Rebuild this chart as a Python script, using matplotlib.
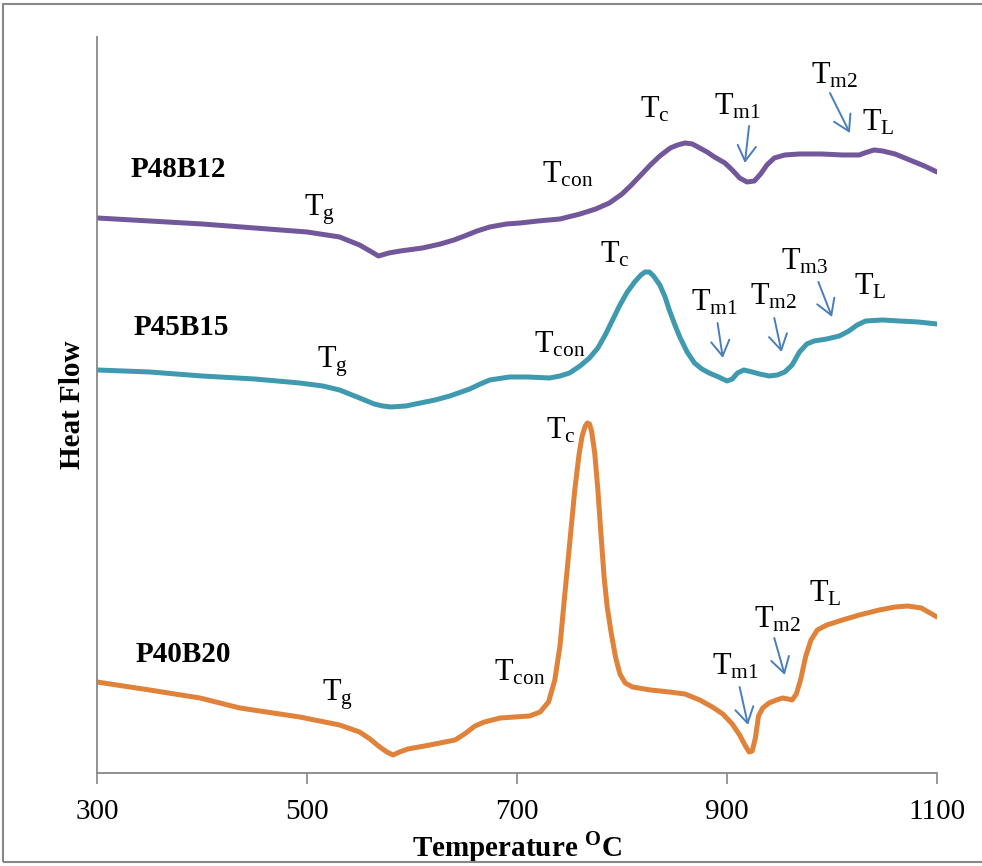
import matplotlib
matplotlib.use("Agg")
import matplotlib.pyplot as plt
from matplotlib.patches import Rectangle

plt.rcParams["font.family"] = ["Liberation Serif", "DejaVu Serif"]
plt.rcParams["mathtext.fontset"] = "custom"
plt.rcParams["mathtext.rm"] = "Liberation Serif"
plt.rcParams["mathtext.bf"] = "Liberation Serif:bold"

# ------- DSC traces (temperature in degC, heat flow in arbitrary units) -------
t_p48 = [300, 400, 450, 500, 531, 550, 560, 568, 578, 589, 610, 627, 640, 650, 662,
         674, 690, 703, 720, 741, 760, 775, 788, 800, 808, 818, 827, 836, 846, 853,
         860, 867, 874, 881, 888, 898, 905, 912, 919, 926, 932, 938, 945, 955, 969,
         990, 1010, 1026, 1031, 1040, 1048, 1060, 1074, 1088, 1100]
hf_p48 = [55.5, 54.9, 54.5, 54.1, 53.6, 52.8, 52.2, 51.7, 52.0, 52.2, 52.5, 52.9, 53.3,
          53.7, 54.2, 54.6, 54.9, 55.0, 55.2, 55.4, 55.9, 56.4, 57.0, 57.9, 58.7, 59.8,
          60.8, 61.7, 62.5, 62.8, 63.0, 62.9, 62.5, 62.1, 61.6, 61.0, 60.3, 59.5, 59.1,
          59.2, 59.9, 60.8, 61.5, 61.8, 61.9, 61.9, 61.8, 61.8, 62.0, 62.3, 62.2, 61.9,
          61.3, 60.7, 60.1]

t_p45 = [300, 350, 400, 450, 493, 515, 531, 550, 564, 572, 580, 594, 608, 622, 636,
         655, 665, 674, 693, 710, 731, 741, 750, 760, 769, 777, 784, 791, 798, 805,
         812, 818, 822, 826, 830, 836, 841, 845, 850, 855, 862, 869, 876, 883, 892,
         900, 905, 910, 916, 924, 931, 940, 948, 955, 962, 969, 976, 983, 995, 1007,
         1016, 1024, 1032, 1048, 1064, 1082, 1100]
hf_p45 = [40.3, 40.1, 39.7, 39.4, 39.0, 38.7, 38.3, 37.5, 36.9, 36.7, 36.6, 36.7, 37.0,
          37.3, 37.7, 38.4, 38.9, 39.3, 39.6, 39.6, 39.5, 39.7, 40.0, 40.7, 41.5, 42.5,
          43.8, 45.3, 46.8, 48.1, 49.1, 49.8, 50.1, 50.1, 49.7, 48.8, 47.6, 46.3, 44.9,
          43.6, 42.1, 41.0, 40.4, 40.0, 39.6, 39.2, 39.4, 40.0, 40.3, 40.1, 39.9, 39.7,
          39.8, 40.1, 40.8, 42.1, 42.9, 43.2, 43.4, 43.7, 44.2, 44.8, 45.2, 45.3, 45.2,
          45.1, 44.9]

t_p40 = [300, 350, 398, 436, 493, 531, 550, 560, 568, 576, 582, 588, 596, 617, 641,
         650, 660, 669, 684, 712, 722, 730, 736, 741, 745, 750, 755, 759, 762, 765,
         767, 769, 771, 774, 777, 780, 783, 786, 790, 794, 798, 803, 810, 827, 845,
         860, 874, 886, 896, 905, 912, 917, 921, 924, 927, 930, 934, 940, 947, 953,
         958, 962, 966, 970, 975, 980, 986, 995, 1010, 1026, 1045, 1060, 1072, 1085,
         1100]
hf_p40 = [9.1, 8.3, 7.5, 6.5, 5.6, 4.8, 4.1, 3.4, 2.7, 2.1, 1.8, 2.1, 2.4, 2.8, 3.3,
          3.9, 4.7, 5.1, 5.5, 5.7, 6.1, 7.1, 9.3, 12.8, 17.3, 22.8, 28.3, 31.8, 33.7,
          34.7, 35.0, 34.9, 34.2, 32.0, 28.3, 23.8, 19.5, 16.5, 13.8, 11.5, 9.9, 9.0,
          8.6, 8.3, 8.1, 7.9, 7.3, 6.6, 5.9, 4.9, 3.8, 2.8, 2.1, 2.2, 3.5, 5.7, 6.5,
          7.0, 7.3, 7.5, 7.4, 7.3, 7.9, 9.3, 11.7, 13.3, 14.3, 14.8, 15.3, 15.8, 16.3,
          16.6, 16.7, 16.5, 15.6]

samples = ["P48B12", "P45B15", "P40B20"]
colors = ["#72579a", "#3f9ab0", "#e0823a"]
x_ticks = [300, 500, 700, 900, 1100]

# (text, T, heat flow) for the transition labels
labels = [
    (r"$\mathrm{T_g}$", 512, 56.3), (r"$\mathrm{T_{con}}$", 748, 59.8),
    (r"$\mathrm{T_c}$", 831, 66.3), (r"$\mathrm{T_{m1}}$", 910, 66.6),
    (r"$\mathrm{T_{m2}}$", 1002, 69.7), (r"$\mathrm{T_L}$", 1044, 65.0),
    (r"$\mathrm{T_g}$", 524, 41.1), (r"$\mathrm{T_{con}}$", 741, 42.8),
    (r"$\mathrm{T_c}$", 793, 51.8), (r"$\mathrm{T_{m1}}$", 888, 47.0),
    (r"$\mathrm{T_{m2}}$", 944, 47.6), (r"$\mathrm{T_{m3}}$", 974, 51.1),
    (r"$\mathrm{T_L}$", 1036, 48.6),
    (r"$\mathrm{T_g}$", 529, 7.8), (r"$\mathrm{T_{con}}$", 703, 10.0),
    (r"$\mathrm{T_c}$", 742, 34.2), (r"$\mathrm{T_{m1}}$", 908, 10.6),
    (r"$\mathrm{T_{m2}}$", 948, 15.3), (r"$\mathrm{T_L}$", 994, 17.9),
]
# arrows: (T start, hf start, T end, hf end)
arrows = [
    (921, 64.7, 917, 61.0), (998, 68.0, 1017, 64.0),
    (891, 45.0, 896, 41.5), (945, 45.5, 952, 42.1), (987, 49.1, 1000, 45.6),
    (912, 8.6, 920, 4.8), (945, 13.5, 955, 9.8),
]
name_pos = [(377, 60.3), (380, 44.5), (382, 11.8)]

fig = plt.figure(figsize=(9.82, 8.66), dpi=100)
ax = fig.add_axes([0.0988, 0.1074, 0.8554, 0.8499])

for t, hf, c in zip([t_p48, t_p45, t_p40], [hf_p48, hf_p45, hf_p40], colors):
    ax.plot(t, hf, color=c, linewidth=3.6, solid_joinstyle="round",
            solid_capstyle="round")

for txt, x, y in labels:
    ax.text(x, y, txt, fontsize=22, ha="center", va="center")

for x0, y0, x1, y1 in arrows:
    ax.annotate("", xy=(x1, y1), xytext=(x0, y0),
                arrowprops=dict(arrowstyle="->,head_length=0.55,head_width=0.33",
                                mutation_scale=20, color="#4a7ebb", lw=1.4,
                                shrinkA=0, shrinkB=0))

for name, (x, y) in zip(samples, name_pos):
    ax.text(x, y, name, fontsize=21, fontweight="bold", ha="center", va="center")

ax.set_xlim(300, 1100)
ax.set_ylim(0, 73.6)
ax.set_xticks(x_ticks)
ax.set_yticks([])
ax.tick_params(axis="x", direction="out", length=8, width=1.2, color="#888888",
               labelsize=21, pad=11)
for side in ["top", "right"]:
    ax.spines[side].set_visible(False)
for side in ["left", "bottom"]:
    ax.spines[side].set_color("#888888")
    ax.spines[side].set_linewidth(1.3)

ax.set_xlabel(r"Temperature $^{\mathbf{O}}$C", fontsize=21, fontweight="bold",
              labelpad=3)
ax.set_ylabel("Heat Flow", fontsize=21, fontweight="bold", labelpad=8)

fig.patches.append(Rectangle((0.003, 0.005), 1.2, 0.99, transform=fig.transFigure,
                             fill=False, edgecolor="#888888", linewidth=1.5))

fig.savefig("out.png", dpi=100)
